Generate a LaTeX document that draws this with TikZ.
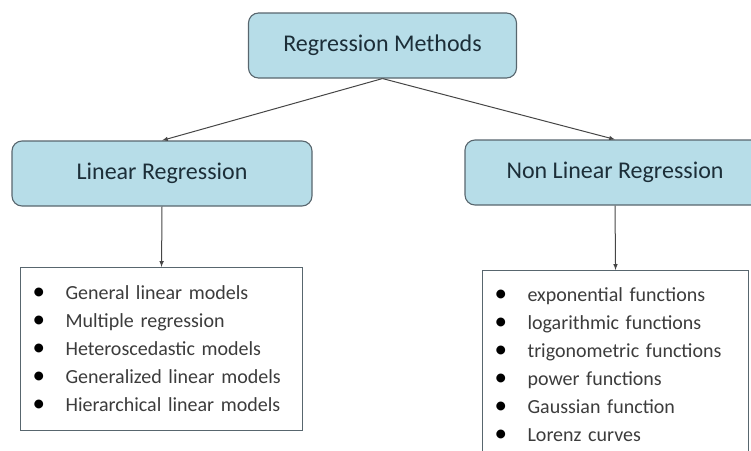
\documentclass[tikz,border=0pt]{standalone}
\usepackage{fontspec}
\setmainfont{Carlito}
\definecolor{boxfill}{RGB}{183,221,232}
\definecolor{boxline}{RGB}{88,102,110}
\definecolor{boxtext}{RGB}{28,46,56}
\definecolor{listtext}{RGB}{60,60,60}
\definecolor{arrowline}{RGB}{70,70,70}
\tikzset{
    method/.style={rectangle, rounded corners=10pt, draw=boxline, line width=1.1pt,
        fill=boxfill, text=boxtext, font=\fontsize{24}{28}\selectfont, minimum height=65pt},
    listbox/.style={rectangle, draw=boxline, line width=1.1pt, fill=white, text=listtext,
        font=\fontsize{20}{28}\selectfont, align=left, inner xsep=12pt, anchor=north west}
}
\newcommand{\itm}[1]{\makebox[33pt][l]{\fontsize{25}{28}\selectfont\textcolor{black}{\textbullet}}#1}
\begin{document}
\begin{tikzpicture}[
                    x=1pt, y=-1pt,
                    >=latex
                ]
                \useasboundingbox (0,0) rectangle (751,450);
                % Blocks
                \node [method, minimum width=268pt] (reg) at (382.5,45.5) {Regression Methods};
                \node [method, minimum width=300pt] (lin) at (162,173.5) {Linear Regression};
                \node [method, minimum width=300pt] (nonlin) at (615,172.5) {Non Linear Regression};
                \node [listbox, text width=258pt, minimum height=163pt] (linlist) at (20,267) {%
                    \itm{General linear models}\\
                    \itm{Multiple regression}\\
                    \itm{Heteroscedastic models}\\
                    \itm{Generalized linear models}\\
                    \itm{Hierarchical linear models}};
                \node [listbox, text width=242pt, minimum height=188pt] (nonlist) at (482,270) {%
                    \itm{exponential functions}\\
                    \itm{logarithmic functions}\\
                    \itm{trigonometric functions}\\
                    \itm{power functions}\\
                    \itm{Gaussian function}\\
                    \itm{Lorenz curves}};

                % Connections
                \draw [->, arrowline, line width=1pt] (reg.south) -- (lin.north);
                \draw [->, arrowline, line width=1pt] (reg.south) -- (nonlin.north);
                \draw [->, arrowline, line width=1pt] (lin.south) -- (linlist.north);
                \draw [->, arrowline, line width=1pt] (nonlin.south) -- (nonlist.north);
            \end{tikzpicture}
\end{document}
